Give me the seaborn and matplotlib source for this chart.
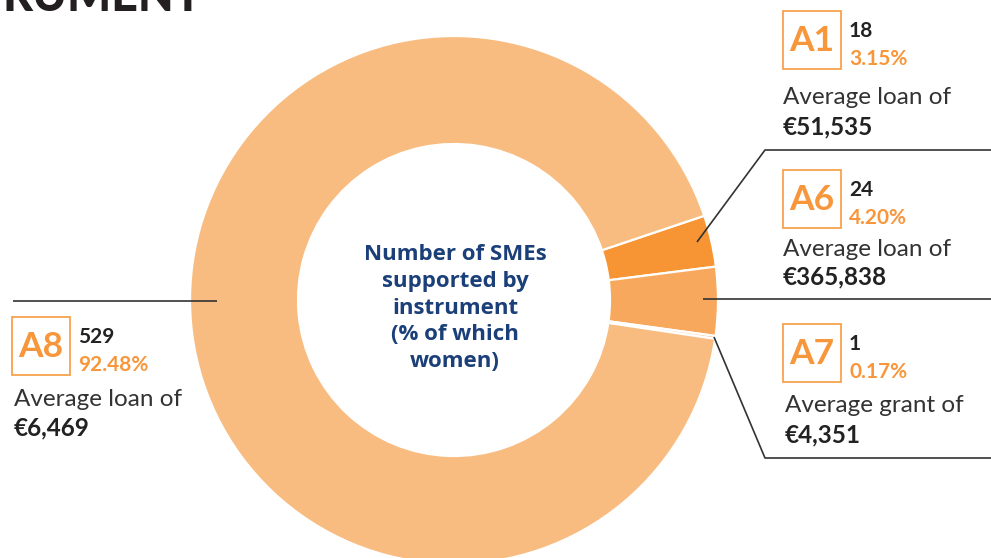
import matplotlib
matplotlib.use("Agg")
import matplotlib.pyplot as plt
import seaborn as sns
from matplotlib.patches import Rectangle

# ---- data ----
instruments = ["A1", "A6", "A7", "A8"]
smes = [18, 24, 1, 529]
women_pct = ["3.15%", "4.20%", "0.17%", "92.48%"]
avg_kind = ["Average loan of", "Average loan of", "Average grant of", "Average loan of"]
avg_value = ["€51,535", "€365,838", "€4,351", "€6,469"]
center_label = "Number of SMEs\nsupported by\ninstrument\n(% of which\nwomen)"
title_fragment = "RUMENT"

sns.set_theme(style="white")
plt.rcParams["font.family"] = ["Lato", "DejaVu Sans"]

slice_colors = ["#F79433", "#F8A85C", "#F9BC80", "#F9BC80"]
ORANGE = "#F7963A"
BOX = "#F8A24E"
DARK = "#222222"
NAVY = "#1B3F78"

W, H = 991, 558
fig = plt.figure(figsize=(W / 100, H / 100), dpi=100)
ax = fig.add_axes([0, 0, 1, 1])

def Y(y):
    return H - y

cx, cy, R, r_in = 454, 300, 264, 156
ax.pie(smes, colors=slice_colors, startangle=18.6, counterclock=False,
       center=(cx, Y(cy)), radius=R,
       wedgeprops=dict(width=R - r_in, edgecolor="white", linewidth=1.6))
ax.set_xlim(0, W)
ax.set_ylim(0, H)
ax.set_aspect("auto")
ax.axis("off")

# title fragment cut at top
ax.text(2, Y(11), title_fragment, fontsize=33.5, fontweight="black", color="#231F20",
        ha="left", va="baseline")

# center text
ax.text(cx + 1, Y(308), center_label, fontsize=16, fontweight="bold", color=NAVY,
        ha="center", va="center", linespacing=1.36, family=["Open Sans", "DejaVu Sans"])

# leader lines (pixel coords)
lines = [
    [(697, 242), (765, 150), (991, 150)],
    [(703, 299), (991, 299)],
    [(714, 337), (765, 458), (991, 458)],
    [(13, 301), (217, 301)],
]
for pts in lines:
    xs = [p[0] for p in pts]
    ys = [Y(p[1]) for p in pts]
    ax.plot(xs, ys, color="#333333", lw=1.2, solid_capstyle="butt")

# label blocks: box left, box top, text x for avg lines, avg text y
blocks = [
    (783, 11, 783, 97, 127),
    (783, 170, 783, 250, 277),
    (783, 324, 785, 405, 435),
    (12, 317, 14, 400, 428),
]
for i, (bx, by, tx, ay, vy) in enumerate(blocks):
    ax.add_patch(Rectangle((bx, Y(by + 58)), 58, 58, fill=False, edgecolor=BOX, lw=1.3))
    ax.text(bx + 29, Y(by + 30), instruments[i], fontsize=25.5, fontweight="bold",
            color=ORANGE, ha="center", va="center")
    ax.text(bx + 66, Y(by + 20), str(smes[i]), fontsize=15, fontweight="bold",
            color=DARK, ha="left", va="center")
    ax.text(bx + 66, Y(by + 48), women_pct[i], fontsize=15, fontweight="bold",
            color=ORANGE, ha="left", va="center")
    ax.text(tx, Y(ay), avg_kind[i], fontsize=17.5, color="#333333",
            ha="left", va="center")
    ax.text(tx, Y(vy), avg_value[i], fontsize=17.5, fontweight="bold",
            color=DARK, ha="left", va="center")

fig.savefig("out.png", dpi=100)
